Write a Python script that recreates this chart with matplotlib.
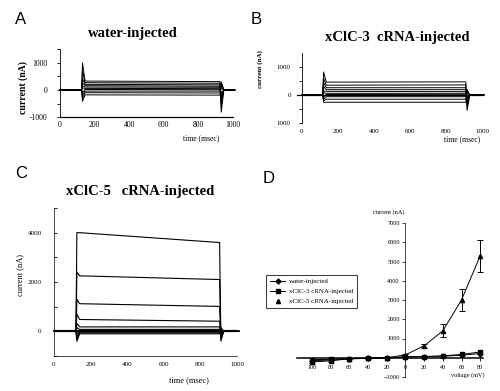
import matplotlib
matplotlib.use('Agg')
import matplotlib.pyplot as plt
from matplotlib.lines import Line2D

plt.rcParams['font.family'] = ['Liberation Serif', 'DejaVu Serif']

# ---------------- data ----------------
# Panel A: water-injected traces (nA)
a_t_on, a_t_off = 125, 925
a_peak = [1000, 700, 420, 260, 150, 80, -100, -200, -300, -420]
a_start = [330, 270, 210, 160, 110, 60, 20, -40, -100, -180]
a_end = [310, 250, 190, 140, 100, 50, 10, -40, -110, -190]
a_tail = [-820, -600, -450, -300, -200, -100, 50, 150, 250, 300]

# Panel B: xClC-3 cRNA-injected traces (nA)
b_t_on, b_t_off = 115, 910
b_peak = [820, 600, 450, 300, 150, 80, -80, -150, -200, -260]
b_start = [460, 350, 260, 190, 130, 60, 20, -60, -150, -260]
b_end = [470, 360, 260, 190, 120, 60, 10, -60, -150, -260]
b_tail = [-550, -400, -300, -200, -100, -50, 50, 100, 150, 200]

# Panel C: xClC-5 cRNA-injected traces (nA)
c_t_on, c_t_off = 120, 905
c_peak = [4000, 2400, 1300, 700, 320, 150, -100, -200, -300, -400]
c_start = [4000, 2250, 1120, 480, 180, 80, 20, -20, -60, -100]
c_end = [3600, 2100, 1010, 410, 180, 80, 20, -20, -60, -100]
c_tail = [-400, -300, -250, -200, -150, -100, 80, 100, 120, 150]

# Panel D: I-V relationship
voltages = [-100, -80, -60, -40, -20, 0, 20, 40, 60, 80]
water = [-150, -120, -60, -30, -10, 50, 60, 80, 130, 220]
clc3 = [-100, -80, -40, -20, -10, 40, 60, 100, 170, 300]
clc5 = [-220, -160, -50, -20, 0, 150, 620, 1400, 3000, 5300]
clc5_err = [40, 40, 30, 20, 20, 40, 100, 330, 550, 820]
v_labels = ['100', '80', '60', '40', '20', '0', '20', '40', '60', '80']

# ---------------- figure ----------------
W, H = 500, 391
fig = plt.figure(figsize=(5, 3.91), dpi=100)


def add_ax(l, t, r, b):
    return fig.add_axes([l / W, 1 - b / H, (r - l) / W, (b - t) / H])


def ftext(x, y, s, **kw):
    fig.text(x / W, 1 - y / H, s, ha=kw.pop('ha', 'center'), va=kw.pop('va', 'center'), **kw)


def draw_traces(ax, t_on, t_off, peak, start, end, tail, lw=0.7):
    for p, s, e, tl in zip(peak, start, end, tail):
        t = [0, t_on, t_on + 5, t_on + 20, t_off, t_off + 7, t_off + 22, 1010]
        v = [0, 0, p, s, e, tl, 0, 0]
        ax.plot(t, v, color='black', lw=lw, clip_on=False)


def style_trace_ax(ax, ylim):
    ax.set_xlim(0, 1000)
    ax.set_ylim(*ylim)
    ax.spines['top'].set_visible(False)
    ax.spines['right'].set_visible(False)
    ax.patch.set_alpha(0)


# Panel A
axA = add_ax(60, 49.5, 233, 117)
draw_traces(axA, a_t_on, a_t_off, a_peak, a_start, a_end, a_tail)
style_trace_ax(axA, (-1000, 1500))
axA.set_yticks([-1000, 0, 1000])
axA.set_yticklabels(['-1000', '0', '1000'])
axA.set_yticks([-500, 500, 1500], minor=True)
axA.set_xticks(range(0, 1001, 200))
axA.set_xticks([1000], minor=True)
axA.tick_params(axis='y', which='both', length=2, width=0.6, labelsize=5.5, pad=7)
axA.tick_params(axis='x', which='major', length=0, labelsize=5.5, pad=3)
axA.tick_params(axis='x', which='minor', length=3, direction='in', width=0.6)
axA.spines['left'].set_linewidth(0.6)
axA.spines['bottom'].set_linewidth(0.9)

# Panel B
axB = add_ax(302, 53, 482, 123)
draw_traces(axB, b_t_on, b_t_off, b_peak, b_start, b_end, b_tail)
style_trace_ax(axB, (-1000, 1500))
axB.spines['bottom'].set_visible(False)
axB.axhline(0, color='black', lw=0.9, xmin=-0.03, clip_on=False)
axB.set_yticks([-1000, 0, 1000])
axB.set_yticklabels(['1000', '0', '1000'])
axB.set_yticks([-500, 500], minor=True)
axB.set_xticks(range(0, 1001, 200))
axB.set_xticks([200, 600, 1000], minor=True)
axB.tick_params(axis='y', which='both', length=2, width=0.6, labelsize=5, pad=6)
axB.tick_params(axis='x', which='major', length=0, labelsize=5, pad=4)
axB.tick_params(axis='x', which='minor', length=3, direction='in', width=0.6)
axB.spines['left'].set_linewidth(0.6)

# Panel C
axC = add_ax(54, 208, 237, 356)
draw_traces(axC, c_t_on, c_t_off, c_peak, c_start, c_end, c_tail, lw=0.8)
axC.axhline(0, color='black', lw=1.6, xmin=0, xmax=1.0)
style_trace_ax(axC, (-1000, 5000))
axC.set_yticks([0, 2000, 4000])
axC.set_yticks([-1000, 1000, 3000, 5000], minor=True)
axC.set_xticks(range(0, 1001, 200))
axC.set_xticks([400], minor=True)
axC.tick_params(axis='y', which='both', length=2, width=0.6, direction='in', labelsize=5, pad=9)
axC.tick_params(axis='x', which='major', length=0, labelsize=5, pad=4)
axC.tick_params(axis='x', which='minor', length=3, direction='in', width=0.6)
axC.spines['left'].set_linewidth(0.5)
axC.spines['bottom'].set_linewidth(0.5)

# Panel D
axD = add_ax(297, 223, 483, 377)
axD.plot(voltages, water, color='black', lw=0.7, marker='D', ms=2.5)
axD.plot(voltages, clc3, color='black', lw=0.7, marker='s', ms=2.5)
axD.errorbar(voltages, clc5, yerr=clc5_err, color='black', lw=0.7, marker='^', ms=3,
             capsize=2, elinewidth=0.7, capthick=0.7)
axD.set_xlim(-116, 83)
axD.set_ylim(-1000, 7000)
axD.spines['top'].set_visible(False)
axD.spines['right'].set_visible(False)
axD.spines['left'].set_position(('data', 0))
axD.spines['bottom'].set_position(('data', 0))
axD.spines['bottom'].set_linewidth(1.1)
axD.spines['left'].set_linewidth(0.5)
axD.set_xticks(voltages)
axD.set_xticklabels(v_labels)
axD.set_yticks([-1000, 1000, 2000, 3000, 4000, 5000, 6000, 7000])
axD.tick_params(axis='x', length=2, width=0.6, labelsize=4.5, pad=3)
axD.tick_params(axis='y', length=2, width=0.5, labelsize=4.5, pad=2)
axD.patch.set_alpha(0)

handles = [
    Line2D([], [], color='black', lw=0.7, marker='D', ms=2.5),
    Line2D([], [], color='black', lw=0.7, marker='s', ms=2.5),
    Line2D([], [], color='black', lw=0, marker='^', ms=3),
]
leg = fig.legend(handles, ['water-injected', 'xClC-3 cRNA-injected', 'xClC-5 cRNA-injected'],
                 loc='lower left', bbox_to_anchor=(263 / W, 1 - 311 / H), bbox_transform=fig.transFigure,
                 fontsize=5, frameon=True, fancybox=False, edgecolor='black', handlelength=2.2,
                 borderpad=0.5, labelspacing=0.6, handletextpad=0.6)
leg.get_frame().set_linewidth(0.7)

# ---------------- texts ----------------
for (x, y, s) in [(21, 19, 'A'), (256, 19, 'B'), (21, 174, 'C'), (269, 178, 'D')]:
    ftext(x, y, s, fontsize=12, family='Liberation Sans')

ftext(133, 34, 'water-injected', fontsize=10.5, fontweight='bold')
ftext(397, 37, 'xClC-3  cRNA-injected', fontsize=10.5, fontweight='bold')
ftext(140, 191, 'xClC-5   cRNA-injected', fontsize=10.5, fontweight='bold')

ftext(23, 88, 'current (nA)', fontsize=7, fontweight='bold', rotation=90)
ftext(260, 69, 'current (nA)', fontsize=5, fontweight='bold', rotation=90)
ftext(20, 275, 'current (nA)', fontsize=6, rotation=90)

ftext(201, 138, 'time (msec)', fontsize=5.5)
ftext(462, 139, 'time (msec)', fontsize=5.5)
ftext(189, 380, 'time (msec)', fontsize=6)

ftext(389, 212, 'current (nA)', fontsize=4.5)
ftext(468, 375, 'voltage (mV)', fontsize=4.5)

fig.savefig('out.png', dpi=100)
